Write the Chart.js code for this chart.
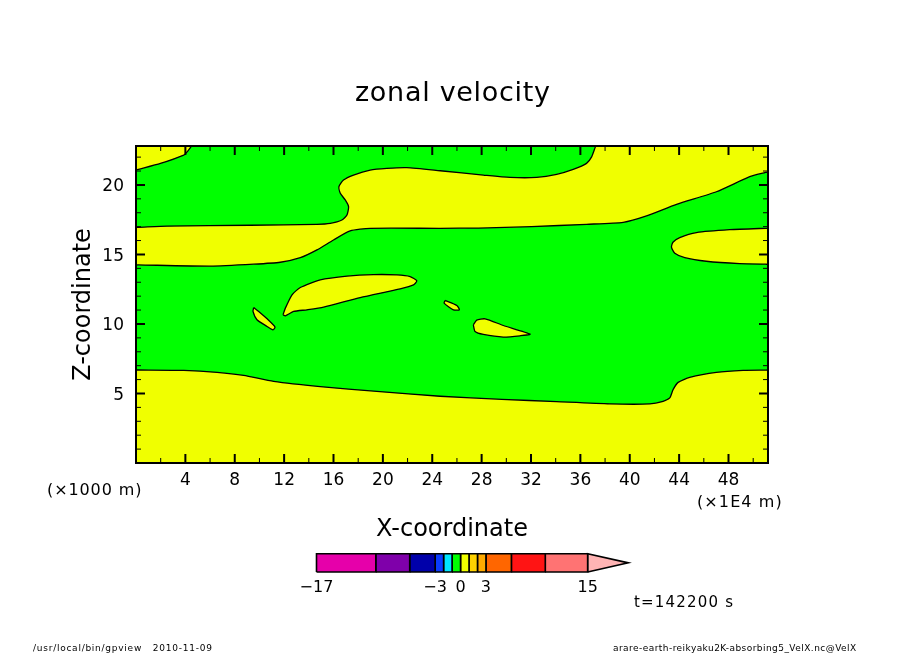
<!DOCTYPE html>
<html lang="en">
<head>
  <meta charset="UTF-8" />
  <title>zonal velocity</title>
  <script src="https://cdn.jsdelivr.net/npm/chart.js"></script>
  <style>
    body { margin: 0; background: #ffffff; font-family: 'DejaVu Sans', sans-serif; color: #000; }
    #wrap { position: relative; width: 904px; height: 654px; overflow: hidden; }
    #mainChart { position: absolute; left: 0; top: 0; }
    #scaleChart { position: absolute; left: 286px; top: 545px; }
    .label { position: absolute; white-space: pre; line-height: 1; }
    #title { left: 355px; top: 78px; font-size: 27px; letter-spacing: 0.7px; }
    #xUnitA { left: 47px; top: 482px; font-size: 16px; letter-spacing: 0.9px; }
    #xUnitB { left: 697px; top: 494px; font-size: 16px; letter-spacing: 1.1px; }
    #timeLabel { left: 634px; top: 595px; font-size: 15px; letter-spacing: 1.2px; }
    #footLeft { left: 33px; top: 644px; font-size: 9px; letter-spacing: 0.75px; }
    #footRight { left: 613px; top: 644px; font-size: 9px; letter-spacing: 0.45px; }
  </style>
</head>
<body>
<div id="wrap">
  <canvas id="mainChart" width="904" height="654"></canvas>
  <canvas id="scaleChart" width="354" height="60"></canvas>
  <div class="label" id="title">zonal velocity</div>
  <div class="label" id="xUnitA">(×1000 m)</div>
  <div class="label" id="xUnitB">(×1E4 m)</div>
  <div class="label" id="timeLabel">t=142200 s</div>
  <div class="label" id="footLeft">/usr/local/bin/gpview   2010-11-09</div>
  <div class="label" id="footRight">arare-earth-reikyaku2K-absorbing5_VelX.nc@VelX</div>
</div>

<script>
  // axis ranges and ticks
  const xMax = 51.2;
  const yMax = 22.8;
  const xTicks = [2, 4, 6, 8, 10, 12, 14, 16, 18, 20, 22, 24, 26, 28, 30, 32, 34, 36, 38, 40, 42, 44, 46, 48, 50];
  const yTicks = [1, 2, 3, 4, 5, 6, 7, 8, 9, 10, 11, 12, 13, 14, 15, 16, 17, 18, 19, 20, 21, 22];
  const xTickLabels = [4, 8, 12, 16, 20, 24, 28, 32, 36, 40, 44, 48];
  const yTickLabels = [5, 10, 15, 20];

  // contour of zero as [x, z]
  const topLeftLobe = [[0, 21.07], [0.2, 21.12], [1.98, 21.55], [3.87, 22.15], [4.14, 22.38], [4.45, 22.8], [0, 22.8]];
  const middleBand = [
    [0, 16.95], [0.2, 16.95], [2.52, 17.03], [9.26, 17.1], [14.66, 17.17], [15.74, 17.24], [16.68, 17.48], [17.09, 17.84],
    [17.22, 18.44], [16.95, 18.92], [16.55, 19.4], [16.44, 19.87], [16.81, 20.35], [17.62, 20.71], [18.97, 21.07],
    [20.32, 21.19], [21.94, 21.24], [24.64, 21.02], [28.14, 20.71], [30.3, 20.54], [32.46, 20.54], [34.08, 20.76],
    [35.42, 21.12], [36.5, 21.55], [36.91, 22.02], [37.2, 22.7], [37.25, 22.8], [51.2, 22.8], [51.2, 20.95], [51.0, 20.9],
    [49.72, 20.59], [47.02, 19.51], [43.79, 18.6], [41.36, 17.77], [39.47, 17.31], [36.5, 17.17], [32.05, 17.0], [27.74, 16.9],
    [24.64, 16.88], [18.97, 16.88], [17.35, 16.69], [16.0, 16.04], [14.66, 15.33], [13.31, 14.77], [11.69, 14.44],
    [9.53, 14.3], [6.03, 14.16], [0.2, 14.25], [0, 14.25]
  ];
  const rightLobe = [
    [51.2, 16.88], [51.0, 16.88], [48.1, 16.78], [45.4, 16.57], [44.05, 16.21], [43.5, 15.88], [43.38, 15.52], [43.65, 15.09],
    [44.46, 14.77], [46.2, 14.51], [48.9, 14.34], [51.0, 14.3], [51.2, 14.3]
  ];
  const bottomLayer = [
    [0, 6.69], [0.2, 6.69], [3.87, 6.66], [6.57, 6.52], [8.72, 6.3], [11.15, 5.87], [14.93, 5.49], [19.51, 5.15], [24.64, 4.8],
    [29.63, 4.58], [34.08, 4.41], [38.39, 4.25], [41.63, 4.25], [42.7, 4.44], [43.24, 4.68], [43.51, 5.28],
    [43.92, 5.8], [44.86, 6.16], [47.02, 6.52], [49.18, 6.66], [51.0, 6.68], [51.2, 6.68], [51.2, 0], [0, 0]
  ];
  const bigIsland = [
    [11.91, 10.66], [12.1, 11.14], [12.64, 12.1], [13.31, 12.62], [14.93, 13.17], [17.09, 13.44], [19.24, 13.55],
    [21.13, 13.53], [22.21, 13.41], [22.75, 13.1], [22.48, 12.81], [21.4, 12.53], [18.16, 11.9], [15.2, 11.21],
    [13.85, 11.02], [12.77, 10.9], [12.1, 10.59]
  ];
  const leftIsland = [
    [9.53, 11.18], [9.48, 10.9], [9.8, 10.3], [10.62, 9.82], [11.1, 9.58], [11.26, 9.78], [10.62, 10.37], [9.94, 10.9]
  ];
  const tinyIsland = [[25.04, 11.69], [24.96, 11.5], [25.71, 11.02], [26.2, 11.02], [25.99, 11.33]];
  const rightIsland = [
    [27.33, 9.94], [27.6, 10.28], [28.28, 10.37], [29.76, 9.89], [31.92, 9.27], [31.11, 9.15], [29.76, 9.06],
    [28.14, 9.25], [27.47, 9.46]
  ];
  const domain = [[0, 0], [xMax, 0], [xMax, yMax], [0, yMax]];

  // colour scale
  const levels = [-17, -10, -6, -3, -2, -1, 0, 1, 2, 3, 6, 10, 15];
  const levelColors = ['#e600aa', '#7f00aa', '#0000aa', '#0a3cff', '#00e6ff', '#00ff00', '#f0ff00', '#ffd200',
    '#ffaa00', '#ff6600', '#ff1414', '#ff7373'];
  const overColor = '#ffb4b4';
  const overTip = 19.8;
  const scaleTicks = [-17, -3, 0, 3, 15];

  const YELLOW = '#f0ff00';
  const GREEN = '#00ff00';

  function closed(list) {
    const pts = list.map(p => ({ x: p[0], y: p[1] }));
    pts.push(pts[0]);
    return pts;
  }

  function region(list, color, line) {
    return {
      data: closed(list),
      showLine: true,
      fill: 'shape',
      backgroundColor: color,
      borderColor: '#000000',
      borderWidth: line,
      tension: 0.2,
      pointRadius: 0
    };
  }

  const tickFont = { family: "'DejaVu Sans'", size: 17 };
  const titleFont = { family: "'DejaVu Sans'", size: 24 };

  // frame and inward ticks on all four sides
  const frameTicks = {
    id: 'frameTicks',
    afterDatasetsDraw(chart) {
      const ctx = chart.ctx, a = chart.chartArea, xs = chart.scales.x, ys = chart.scales.y;
      ctx.save();
      ctx.strokeStyle = '#000000';
      xTicks.forEach(v => {
        const major = xTickLabels.includes(v), len = major ? 9 : 5, px = xs.getPixelForValue(v);
        ctx.lineWidth = major ? 2 : 1;
        ctx.beginPath();
        ctx.moveTo(px, a.bottom); ctx.lineTo(px, a.bottom - len);
        ctx.moveTo(px, a.top); ctx.lineTo(px, a.top + len);
        ctx.stroke();
      });
      yTicks.forEach(v => {
        const major = yTickLabels.includes(v), len = major ? 9 : 5, py = ys.getPixelForValue(v);
        ctx.lineWidth = major ? 2 : 1;
        ctx.beginPath();
        ctx.moveTo(a.left, py); ctx.lineTo(a.left + len, py);
        ctx.moveTo(a.right, py); ctx.lineTo(a.right - len, py);
        ctx.stroke();
      });
      ctx.lineWidth = 2;
      ctx.strokeRect(a.left, a.top, a.right - a.left, a.bottom - a.top);
      ctx.restore();
    }
  };

  new Chart(document.getElementById('mainChart'), {
    type: 'scatter',
    data: {
      datasets: [
        region(topLeftLobe, YELLOW, 1.3),
        region(middleBand, YELLOW, 1.3),
        region(rightLobe, YELLOW, 1.3),
        region(bottomLayer, YELLOW, 1.3),
        region(bigIsland, YELLOW, 1.3),
        region(leftIsland, YELLOW, 1.3),
        region(tinyIsland, YELLOW, 1.3),
        region(rightIsland, YELLOW, 1.3),
        region(domain, GREEN, 0)
      ]
    },
    options: {
      responsive: false,
      animation: false,
      layout: { padding: { left: 0, right: 136, top: 146, bottom: 0 } },
      plugins: { legend: { display: false }, tooltip: { enabled: false } },
      scales: {
        x: {
          type: 'linear', min: 0, max: xMax,
          afterBuildTicks: s => { s.ticks = xTicks.map(v => ({ value: v })); },
          afterFit: s => { s.height = 191; },
          grid: { display: false, drawTicks: false },
          border: { display: false },
          ticks: {
            autoSkip: false, maxRotation: 0, padding: 7, color: '#000', font: tickFont,
            callback: v => xTickLabels.includes(v) ? String(v) : ''
          },
          title: { display: true, text: 'X-coordinate', color: '#000', font: titleFont, padding: { top: 0, bottom: 110 } }
        },
        y: {
          type: 'linear', min: 0, max: yMax,
          afterBuildTicks: s => { s.ticks = yTicks.map(v => ({ value: v })); },
          afterFit: s => { s.width = 136; },
          grid: { display: false, drawTicks: false },
          border: { display: false },
          ticks: {
            autoSkip: false, padding: 12, labelOffset: 2, color: '#000', font: tickFont,
            callback: v => yTickLabels.includes(v) ? String(v) : ''
          },
          title: { display: true, text: 'Z-coordinate', color: '#000', font: titleFont, padding: { top: 69, bottom: 0 } }
        }
      }
    },
    plugins: [frameTicks]
  });

  // colour bar: one cell per level interval, then the overflow arrow
  function cell(list, color) {
    return Object.assign(region(list, color, 1.6), { clip: false, tension: 0 });
  }
  const cells = levelColors.map((c, i) =>
    cell([[levels[i], 0], [levels[i + 1], 0], [levels[i + 1], 1], [levels[i], 1]], c));
  cells.push(cell([[15, 0], [overTip, 0.5], [15, 1]], overColor));

  new Chart(document.getElementById('scaleChart'), {
    type: 'scatter',
    data: { datasets: cells },
    options: {
      responsive: false,
      animation: false,
      layout: { padding: { left: 30.5, right: 10, top: 8.7, bottom: 0 } },
      plugins: { legend: { display: false }, tooltip: { enabled: false } },
      scales: {
        x: {
          type: 'linear', min: -17, max: 20,
          afterBuildTicks: s => { s.ticks = scaleTicks.map(v => ({ value: v })); },
          afterFit: s => { s.height = 33; },
          grid: { display: false, drawTicks: false },
          border: { display: false },
          ticks: {
            autoSkip: false, maxRotation: 0, padding: 6, color: '#000', font: { family: "'DejaVu Sans'", size: 16 },
            callback: v => String(v).replace('-', '\u2212')
          }
        },
        y: { type: 'linear', min: 0, max: 1, display: false }
      }
    }
  });
</script>
</body>
</html>
